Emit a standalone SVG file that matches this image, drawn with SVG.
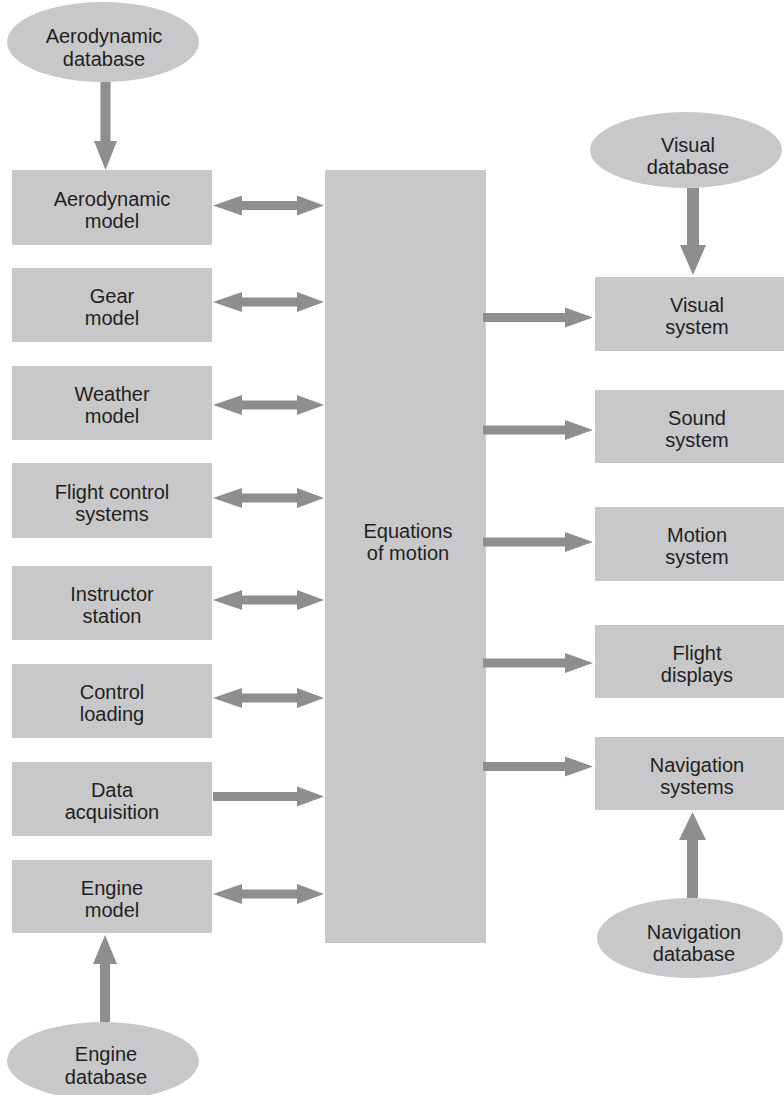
<svg xmlns="http://www.w3.org/2000/svg" xmlns:xlink="http://www.w3.org/1999/xlink" width="784" height="1095" viewBox="0 0 784 1095">
<style>
.box{fill:#c8c8ca}
.db{fill:#c8c8ca}
.arr{fill:#8e8e90}
text{font-family:"Liberation Sans",Arial,sans-serif;font-size:20px;fill:#231f20;text-anchor:middle}
</style>
<defs>
<path id="dbl" d="M213,0 L242,-10 L242,-4.5 L297,-4.5 L297,-10 L324,0 L297,10 L297,4.5 L242,4.5 L242,10 Z"/>
<path id="sglL" d="M213,-4.5 L297,-4.5 L297,-10 L324,0 L297,10 L297,4.5 L213,4.5 Z"/>
<path id="sglR" d="M483,-4.5 L565,-4.5 L565,-10 L593,0 L565,10 L565,4.5 L483,4.5 Z"/>
</defs>
<rect width="784" height="1095" fill="#ffffff"/>

<g id="aero-db"><ellipse class="db" cx="103" cy="42" rx="96" ry="40"/><text x="104" y="43">Aerodynamic</text><text x="104" y="66">database</text></g>
<g id="visual-db"><ellipse class="db" cx="686" cy="150" rx="96" ry="38"/><text x="688" y="152">Visual</text><text x="688" y="174">database</text></g>
<g id="nav-db"><ellipse class="db" cx="690" cy="938" rx="93" ry="40"/><text x="694" y="939">Navigation</text><text x="694" y="961">database</text></g>
<g id="engine-db"><ellipse class="db" cx="103" cy="1061" rx="96" ry="39"/><text x="106" y="1061">Engine</text><text x="106" y="1084">database</text></g>

<g id="aero-model"><rect class="box" x="12" y="170" width="200" height="75"/><text x="112" y="206">Aerodynamic</text><text x="112" y="228">model</text></g>
<g id="gear-model"><rect class="box" x="12" y="268" width="200" height="74"/><text x="112" y="303">Gear</text><text x="112" y="325">model</text></g>
<g id="weather-model"><rect class="box" x="12" y="366" width="200" height="74"/><text x="112" y="401">Weather</text><text x="112" y="423">model</text></g>
<g id="fcs"><rect class="box" x="12" y="463" width="200" height="75"/><text x="112" y="499">Flight control</text><text x="112" y="521">systems</text></g>
<g id="instructor"><rect class="box" x="12" y="566" width="200" height="74"/><text x="112" y="601">Instructor</text><text x="112" y="623">station</text></g>
<g id="control-loading"><rect class="box" x="12" y="664" width="200" height="74"/><text x="112" y="699">Control</text><text x="112" y="721">loading</text></g>
<g id="data-acq"><rect class="box" x="12" y="762" width="200" height="74"/><text x="112" y="797">Data</text><text x="112" y="819">acquisition</text></g>
<g id="engine-model"><rect class="box" x="12" y="860" width="200" height="73"/><text x="112" y="895">Engine</text><text x="112" y="917">model</text></g>

<g id="eom"><rect class="box" x="325" y="170" width="161" height="773"/><text x="408" y="538">Equations</text><text x="408" y="560">of motion</text></g>

<g id="visual-system"><rect class="box" x="595" y="277" width="205" height="74"/><text x="697" y="312">Visual</text><text x="697" y="334">system</text></g>
<g id="sound-system"><rect class="box" x="595" y="390" width="205" height="73"/><text x="697" y="425">Sound</text><text x="697" y="447">system</text></g>
<g id="motion-system"><rect class="box" x="595" y="507" width="205" height="74"/><text x="697" y="542">Motion</text><text x="697" y="564">system</text></g>
<g id="flight-displays"><rect class="box" x="595" y="625" width="205" height="73"/><text x="697" y="660">Flight</text><text x="697" y="682">displays</text></g>
<g id="nav-systems"><rect class="box" x="595" y="737" width="205" height="73"/><text x="697" y="772">Navigation</text><text x="697" y="794">systems</text></g>

<g id="connectors" class="arr">
<path d="M100.5,82 L110.5,82 L110.5,141 L117,141 L105.5,170 L94,141 L100.5,141 Z"/>
<path d="M687,188 L699,188 L699,245 L706,245 L693,275 L680,245 L687,245 Z"/>
<path d="M687,898 L698,898 L698,840 L706,840 L692.5,812 L679,840 L687,840 Z"/>
<path d="M100,1022 L110,1022 L110,964 L117,964 L105,935 L93,964 L100,964 Z"/>
<use xlink:href="#dbl" y="205.5"/>
<use xlink:href="#dbl" y="302"/>
<use xlink:href="#dbl" y="405"/>
<use xlink:href="#dbl" y="498"/>
<use xlink:href="#dbl" y="600"/>
<use xlink:href="#dbl" y="698"/>
<use xlink:href="#sglL" y="796.5"/>
<use xlink:href="#dbl" y="894"/>
<use xlink:href="#sglR" y="317.5"/>
<use xlink:href="#sglR" y="430"/>
<use xlink:href="#sglR" y="542"/>
<use xlink:href="#sglR" y="663"/>
<use xlink:href="#sglR" y="766.5"/>
</g>
</svg>
